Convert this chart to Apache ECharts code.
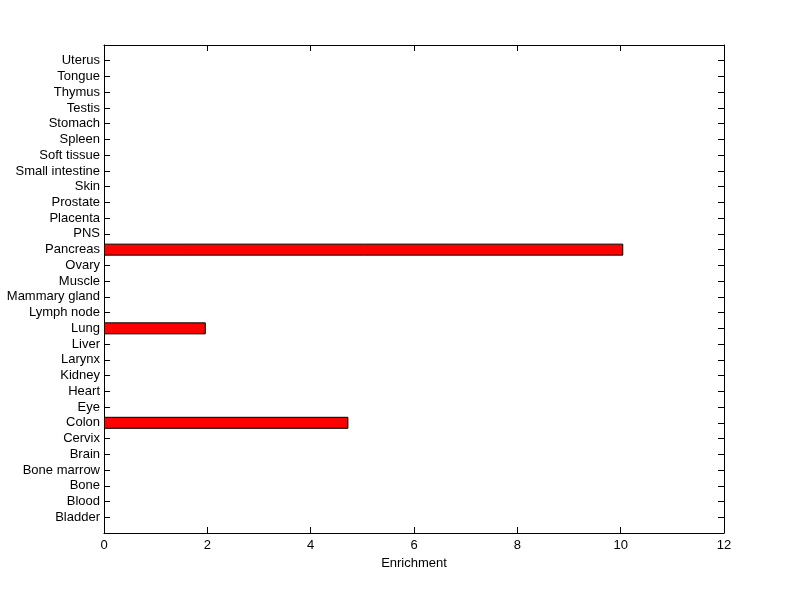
<!DOCTYPE html>
<html>
<head>
<meta charset="utf-8">
<script src="https://cdn.jsdelivr.net/npm/echarts@6/dist/echarts.min.js"></script>
<style>html,body{margin:0;padding:0;background:#fff}#c{width:800px;height:599px}</style>
</head>
<body>
<div id="c"></div>
<script>
const categories = ['Bladder','Blood','Bone','Bone marrow','Brain','Cervix','Colon','Eye','Heart','Kidney','Larynx','Liver','Lung','Lymph node','Mammary gland','Muscle','Ovary','Pancreas','PNS','Placenta','Prostate','Skin','Small intestine','Soft tissue','Spleen','Stomach','Testis','Thymus','Tongue','Uterus'];
const enrichment = [0,0,0,0,0,0,4.73,0,0,0,0,0,1.97,0,0,0,0,10.05,0,0,0,0,0,0,0,0,0,0,0,0];
const xTicks = [0,2,4,6,8,10,12];

const FONT = "'Liberation Sans', Arial, Helvetica, sans-serif";
const FS = 13;
const yCats = [''].concat(categories, ['']);
const barData = ['-'].concat(enrichment.map(v => v === 0 ? '-' : v), ['-']);
const tickFilter = (i, v) => v !== '';

const chart = echarts.init(document.getElementById('c'), null, {renderer: 'canvas'});
const lineStyle = {color: '#000', width: 1};
chart.setOption({
  animation: false,
  backgroundColor: '#fff',
  grid: {left: 104, right: 76, top: 45, bottom: 66, containLabel: false},
  xAxis: [{
    type: 'value', min: xTicks[0], max: xTicks[xTicks.length - 1], interval: 2,
    position: 'bottom',
    name: 'Enrichment', nameLocation: 'middle', nameGap: 22,
    nameTextStyle: {color: '#000', fontFamily: FONT, fontSize: FS},
    axisLine: {show: true, onZero: false, lineStyle},
    axisTick: {show: true, inside: true, length: 6, lineStyle},
    axisLabel: {color: '#000', fontFamily: FONT, fontSize: FS, margin: 6},
    splitLine: {show: false}
  }, {
    type: 'value', min: xTicks[0], max: xTicks[xTicks.length - 1], interval: 2,
    position: 'top',
    axisLine: {show: true, onZero: false, lineStyle},
    axisTick: {show: true, inside: true, length: 6, lineStyle},
    axisLabel: {show: false},
    splitLine: {show: false}
  }],
  yAxis: [{
    type: 'category', data: yCats, boundaryGap: false, position: 'left',
    axisLine: {show: true, onZero: false, lineStyle},
    axisTick: {show: true, inside: true, length: 6, lineStyle, interval: tickFilter},
    axisLabel: {color: '#000', fontFamily: FONT, fontSize: FS, margin: 4, interval: 0},
    splitLine: {show: false}
  }, {
    type: 'category', data: yCats, boundaryGap: false, position: 'right',
    axisLine: {show: true, onZero: false, lineStyle},
    axisTick: {show: true, inside: true, length: 6, lineStyle, interval: tickFilter},
    axisLabel: {show: false},
    splitLine: {show: false}
  }],
  series: [{
    type: 'bar',
    xAxisIndex: 0, yAxisIndex: 0,
    data: barData,
    barWidth: 12,
    itemStyle: {color: '#ff0000', borderColor: '#000', borderWidth: 1}
  }]
});
</script>
</body>
</html>
